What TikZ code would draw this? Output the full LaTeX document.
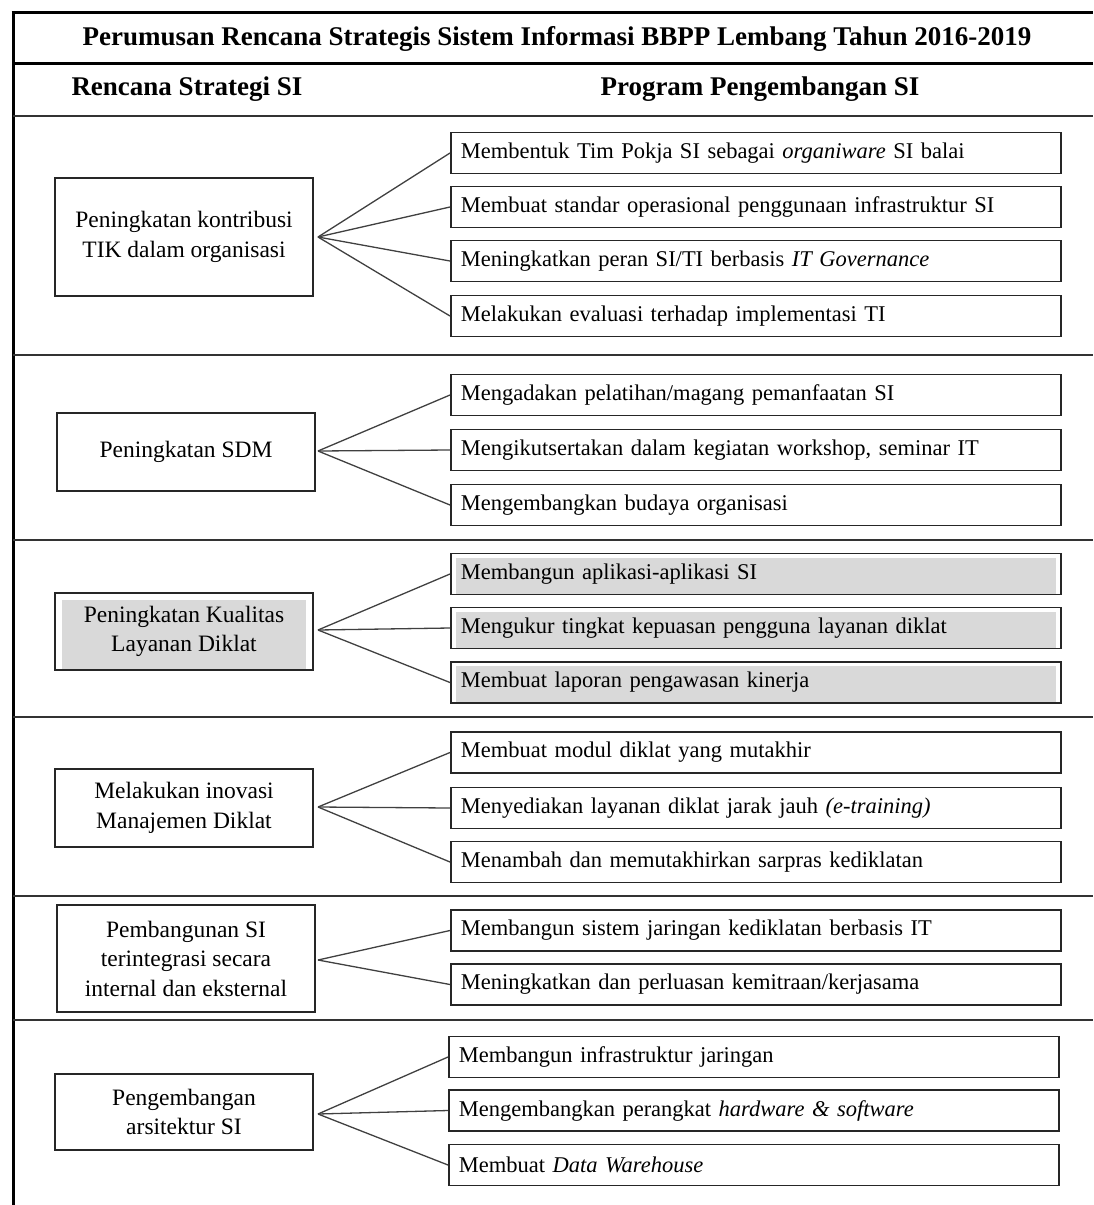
\documentclass[tikz,border=0pt]{standalone}
\usepackage{fontspec}
\setmainfont{Liberation Serif}
\begin{document}
\begin{tikzpicture}[x=1pt,y=-1pt,
  rbox/.style={draw=black!85, line width=1.6pt, anchor=west, minimum height=41pt,
    text width=590pt, inner xsep=10pt, inner ysep=0pt, align=left,
    font=\fontsize{22.5}{25}\selectfont},
  lbox/.style={draw=black!85, line width=1.6pt, minimum width=258pt, align=center,
    inner sep=0pt, font=\fontsize{23.5}{29.5}\selectfont},
  shade/.style={path picture={\fill[black!15]
      ([shift={(#1)}]path picture bounding box.north west) rectangle
      ([shift={(-#1)}]path picture bounding box.south east);}},
  rshade/.style={shade={5pt,-4pt}},
  lshade/.style={shade={7pt,-7pt}},
  fan/.style={draw=black!75, line width=1.3pt},
  rule/.style={draw=black!80, line width=2pt},
  thick rule/.style={draw=black, line width=3pt},
  head/.style={font=\bfseries\fontsize{27}{30}\selectfont}]
\useasboundingbox (0,0) rectangle (1093,1205);

% frame and table rules
\coordinate (tl) at (13,11);
\coordinate (bl) at (13,1205);
\draw[thick rule] (tl) -- (bl);
\draw[thick rule] (11.5,12) -- (1093,12);
\draw[thick rule] (13,63) -- (1093,63);
\foreach \y in {116,355,540,717,896,1020} \draw[rule] (13,\y) -- (1093,\y);

% headings
\node[head] (title) at (557,39) {Perumusan Rencana Strategis Sistem Informasi BBPP Lembang Tahun 2016-2019};
\node[head] (hl) at (187,89) {Rencana Strategi SI};
\node[head] (hr) at (760,89) {Program Pengembangan SI};

% strategy 1
\node[lbox, minimum height=118pt] (l1) at (184,237) {Peningkatan kontribusi\\TIK dalam organisasi};
\coordinate (f1) at (318,237);
\node[rbox] (r11) at (450,153) {Membentuk Tim Pokja SI sebagai \textit{organiware} SI balai};
\node[rbox] (r12) at (450,207) {Membuat standar operasional penggunaan infrastruktur SI};
\node[rbox] (r13) at (450,261) {Meningkatkan peran SI/TI berbasis \textit{IT Governance}};
\node[rbox] (r14) at (450,316) {Melakukan evaluasi terhadap implementasi TI};
\foreach \r in {r11,r12,r13,r14} \draw[fan] (f1) -- (\r.west);

% strategy 2
\node[lbox, minimum height=78pt] (l2) at (186,452) {Peningkatan SDM};
\coordinate (f2) at (318,451);
\node[rbox] (r21) at (450,395) {Mengadakan pelatihan/magang pemanfaatan SI};
\node[rbox] (r22) at (450,450) {Mengikutsertakan dalam kegiatan workshop, seminar IT};
\node[rbox] (r23) at (450,505) {Mengembangkan budaya organisasi};
\foreach \r in {r21,r22,r23} \draw[fan] (f2) -- (\r.west);

% strategy 3
\node[lbox, lshade, minimum height=77pt] (l3) at (184,631.5) {Peningkatan Kualitas\\Layanan Diklat};
\coordinate (f3) at (318,630);
\node[rbox, rshade] (r31) at (450,574) {Membangun aplikasi-aplikasi SI};
\node[rbox, rshade] (r32) at (450,628) {Mengukur tingkat kepuasan pengguna layanan diklat};
\node[rbox, rshade] (r33) at (450,682.5) {Membuat laporan pengawasan kinerja};
\foreach \r in {r31,r32,r33} \draw[fan] (f3) -- (\r.west);

% strategy 4
\node[lbox, minimum height=78pt] (l4) at (184,808) {Melakukan inovasi\\Manajemen Diklat};
\coordinate (f4) at (318,807);
\node[rbox] (r41) at (450,752.5) {Membuat modul diklat yang mutakhir};
\node[rbox] (r42) at (450,808) {Menyediakan layanan diklat jarak jauh \textit{(e-training)}};
\node[rbox] (r43) at (450,862) {Menambah dan memutakhirkan sarpras kediklatan};
\foreach \r in {r41,r42,r43} \draw[fan] (f4) -- (\r.west);

% strategy 5
\node[lbox, minimum height=107pt] (l5) at (186,958.5) {Pembangunan SI\\terintegrasi secara\\internal dan eksternal};
\coordinate (f5) at (318,960);
\node[rbox] (r51) at (450,930.5) {Membangun sistem jaringan kediklatan berbasis IT};
\node[rbox] (r52) at (450,984.5) {Meningkatkan dan perluasan kemitraan/kerjasama};
\foreach \r in {r51,r52} \draw[fan] (f5) -- (\r.west);

% strategy 6
\node[lbox, minimum height=76pt] (l6) at (184,1112) {Pengembangan\\arsitektur SI};
\coordinate (f6) at (318,1114);
\node[rbox] (r61) at (448,1057) {Membangun infrastruktur jaringan};
\node[rbox] (r62) at (448,1110.5) {Mengembangkan perangkat \textit{hardware \& software}};
\node[rbox] (r63) at (448,1165) {Membuat \textit{Data Warehouse}};
\foreach \r in {r61,r62,r63} \draw[fan] (f6) -- (\r.west);
\end{tikzpicture}
\end{document}
